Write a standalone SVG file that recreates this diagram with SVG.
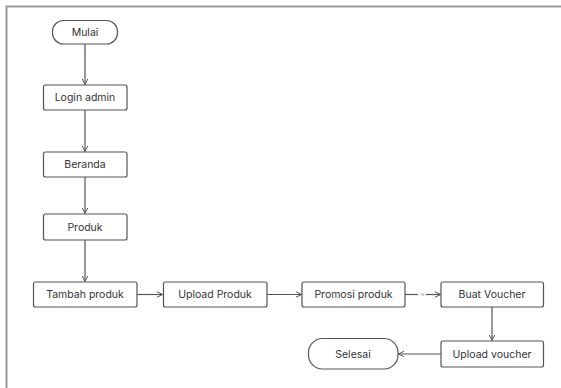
<svg xmlns="http://www.w3.org/2000/svg" width="561" height="388" viewBox="0 0 561 388">
  <defs>
    <marker id="arrow" viewBox="0 0 10 10" refX="9" refY="5" markerWidth="7" markerHeight="7" orient="auto" markerUnits="userSpaceOnUse">
      <path d="M1,1 L9,5 L1,9" fill="none" stroke="#555" stroke-width="1.4"/>
    </marker>
  </defs>
  <style>
    .box { fill: #fff; stroke: #555; stroke-width: 1.2; }
    .lbl { font-family: Inter, "Liberation Sans", sans-serif; font-size: 10.5px; fill: #333; text-anchor: middle; dominant-baseline: central; }
    .edge { fill: none; stroke: #555; stroke-width: 1.2; marker-end: url(#arrow); }
    .tiny { font-family: Inter, "Liberation Sans", sans-serif; font-size: 4px; fill: #999; text-anchor: middle; dominant-baseline: central; }
  </style>
  <rect width="561" height="388" fill="#fff"/>
  <!-- page frame -->
  <path d="M6.5,392 V6.5 H566" fill="none" stroke="#999" stroke-width="2"/>

  <g id="connectors">
    <line class="edge" x1="85" y1="44" x2="85" y2="84.5"/>
    <line class="edge" x1="85" y1="110" x2="85" y2="151.5"/>
    <line class="edge" x1="85" y1="177" x2="85" y2="213.5"/>
    <line class="edge" x1="85" y1="240" x2="85" y2="281.5"/>
    <line class="edge" x1="137" y1="294.5" x2="162.5" y2="294.5"/>
    <line class="edge" x1="267" y1="294.5" x2="301.5" y2="294.5"/>
    <line x1="405" y1="294.5" x2="418" y2="294.5" stroke="#555" stroke-width="1.2"/>
    <text class="tiny" x="422" y="294.5">Ya</text>
    <line class="edge" x1="426" y1="294.5" x2="440.5" y2="294.5"/>
    <line class="edge" x1="492" y1="307" x2="492" y2="340.5"/>
    <line class="edge" x1="441" y1="354" x2="398.5" y2="354"/>
  </g>

  <g id="mulai">
    <rect class="box" x="52.5" y="20.5" width="65" height="23.5" rx="11"/>
    <text class="lbl" x="85" y="32.5">Mulai</text>
  </g>
  <g id="login-admin">
    <rect class="box" x="43.5" y="85" width="83.5" height="25" rx="2"/>
    <text class="lbl" x="85" y="97.5">Login admin</text>
  </g>
  <g id="beranda">
    <rect class="box" x="43.5" y="152" width="83.5" height="25" rx="2"/>
    <text class="lbl" x="85" y="164.5">Beranda</text>
  </g>
  <g id="produk">
    <rect class="box" x="43.5" y="214" width="83.5" height="26" rx="2"/>
    <text class="lbl" x="85" y="227">Produk</text>
  </g>
  <g id="tambah-produk">
    <rect class="box" x="33.5" y="282" width="103.5" height="25" rx="2"/>
    <text class="lbl" x="85" y="294.5">Tambah produk</text>
  </g>
  <g id="upload-produk">
    <rect class="box" x="163.5" y="282" width="103.5" height="25" rx="2"/>
    <text class="lbl" x="215" y="294.5">Upload Produk</text>
  </g>
  <g id="promosi-produk">
    <rect class="box" x="302" y="282" width="103" height="25" rx="2"/>
    <text class="lbl" x="353.5" y="294.5">Promosi produk</text>
  </g>
  <g id="buat-voucher">
    <rect class="box" x="441" y="282" width="102.5" height="25" rx="2"/>
    <text class="lbl" x="492" y="294.5">Buat Voucher</text>
  </g>
  <g id="upload-voucher">
    <rect class="box" x="441" y="341" width="102.5" height="26" rx="2"/>
    <text class="lbl" x="492" y="354">Upload voucher</text>
  </g>
  <g id="selesai">
    <rect class="box" x="308.5" y="338.5" width="89.5" height="30.5" rx="14"/>
    <text class="lbl" x="353" y="354">Selesai</text>
  </g>
</svg>
